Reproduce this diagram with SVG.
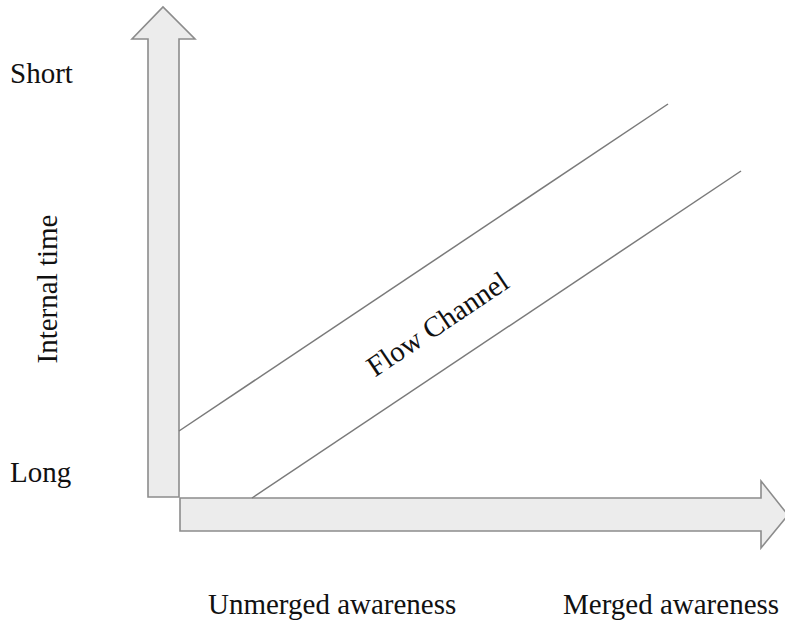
<svg xmlns="http://www.w3.org/2000/svg" width="785" height="622" viewBox="0 0 785 622">
  <style>
    .axis { fill: #ececec; stroke: #8c8c8c; stroke-width: 1.6; stroke-linejoin: miter; }
    .bound { stroke: #7a7a7a; stroke-width: 1.5; fill: none; }
    .lbl { font-family: "Liberation Serif", "Times New Roman", serif; font-size: 29px; fill: #111; }
  </style>
  <rect width="785" height="622" fill="#ffffff"/>

  <!-- vertical axis: internal time -->
  <g id="axis-y">
    <polygon class="axis" points="148,497 148,39 132,39 163,7 195,39 179,39 179,497"/>
  </g>

  <!-- horizontal axis: awareness -->
  <g id="axis-x">
    <polygon class="axis" points="180,498 761,498 761,481 788,515 761,548 761,531 180,531"/>
  </g>

  <!-- channel boundaries -->
  <g id="connectors">
    <line class="bound" x1="179" y1="431" x2="668" y2="104"/>
    <line class="bound" x1="252" y1="498" x2="741" y2="171"/>
  </g>

  <g id="channel-label">
    <text class="lbl" x="443" y="332" text-anchor="middle" transform="rotate(-33.8 443 332)">Flow Channel</text>
  </g>

  <g id="y-labels">
    <text class="lbl" x="10" y="83">Short</text>
    <text class="lbl" x="10" y="482">Long</text>
    <text class="lbl" x="57" y="289" text-anchor="middle" transform="rotate(-90 57 289)">Internal time</text>
  </g>

  <g id="x-labels">
    <text class="lbl" x="208" y="614">Unmerged awareness</text>
    <text class="lbl" x="563" y="614">Merged awareness</text>
  </g>
</svg>
